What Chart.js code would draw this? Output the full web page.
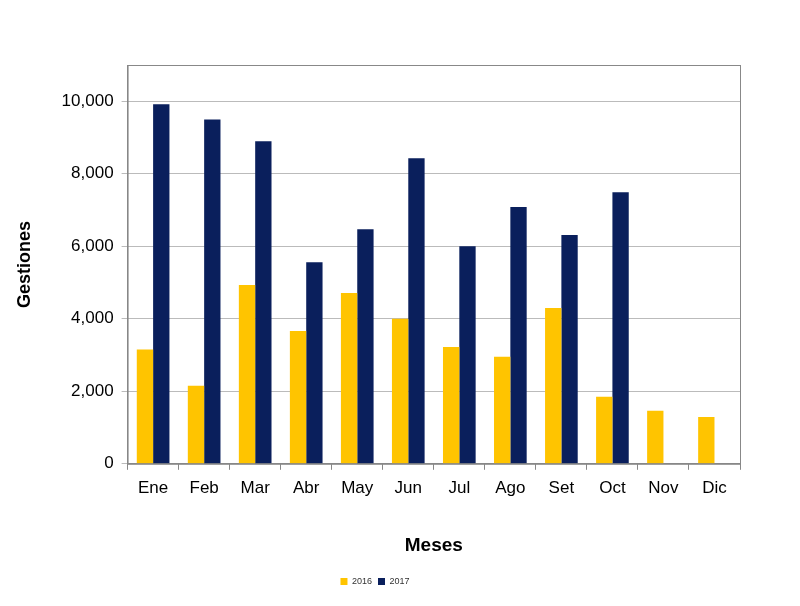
<!DOCTYPE html>
<html>
<head>
<meta charset="utf-8">
<script src="https://cdn.jsdelivr.net/npm/chart.js@4/dist/chart.umd.min.js"></script>
<style>
  body { margin: 0; background: #fff; }
  #wrap { width: 800px; height: 606px; }
</style>
</head>
<body>
<div id="wrap"><canvas id="c" width="800" height="606"></canvas></div>
<script>
const months = ['Ene', 'Feb', 'Mar', 'Abr', 'May', 'Jun', 'Jul', 'Ago', 'Set', 'Oct', 'Nov', 'Dic'];
const values2016 = [3150, 2150, 4930, 3660, 4710, 4000, 3220, 2950, 4300, 1850, 1460, 1290];
const values2017 = [9920, 9500, 8900, 5560, 6470, 8430, 6000, 7080, 6310, 7490, null, null];
const yTicks = [0, 2000, 4000, 6000, 8000, 10000];

const ctx = document.getElementById('c').getContext('2d');
new Chart(ctx, {
  type: 'bar',
  data: {
    labels: months,
    datasets: [
      { label: '2016', data: values2016, backgroundColor: '#FFC400', categoryPercentage: 0.64, barPercentage: 1 },
      { label: '2017', data: values2017, backgroundColor: '#0A1F5C', categoryPercentage: 0.64, barPercentage: 1 }
    ]
  },
  options: {
    responsive: false,
    animation: false,
    layout: { padding: { left: 10, right: 60, top: 65, bottom: 10 } },
    scales: {
      y: {
        min: 0, max: 11000,
        afterBuildTicks: axis => { axis.ticks = yTicks.map(v => ({ value: v })); },
        ticks: {
          color: '#000', padding: 8,
          font: { family: 'Liberation Sans', size: 17 }
        },
        grid: { color: '#bbb', tickLength: 6 },
        border: { color: '#888' },
        title: { display: true, text: 'Gestiones', color: '#000', padding: { bottom: 18 }, font: { family: 'Liberation Sans', size: 18, weight: 'bold' } }
      },
      x: {
        ticks: { color: '#000', padding: 8, font: { family: 'Liberation Sans', size: 17 } },
        grid: { display: true, color: '#888', offset: true, drawOnChartArea: false, tickLength: 6 },
        border: { color: '#888' },
        title: { display: true, text: 'Meses', color: '#000', padding: { top: 28, bottom: 14 }, font: { family: 'Liberation Sans', size: 19, weight: 'bold' } }
      }
    },
    plugins: {
      legend: {
        position: 'bottom',
        labels: { boxWidth: 7, boxHeight: 7, padding: 6, color: '#333', font: { family: 'Liberation Sans', size: 9 } }
      },
      tooltip: { enabled: false }
    }
  },
  plugins: [{
    id: 'frame',
    afterDraw: (chart) => {
      const a = chart.chartArea;
      const c = chart.ctx;
      c.save();
      c.strokeStyle = '#888';
      c.lineWidth = 1;
      c.strokeRect(a.left + 0.5, a.top + 0.5, a.right - a.left, a.bottom - a.top);
      c.restore();
    }
  }]
});
</script>
</body>
</html>
